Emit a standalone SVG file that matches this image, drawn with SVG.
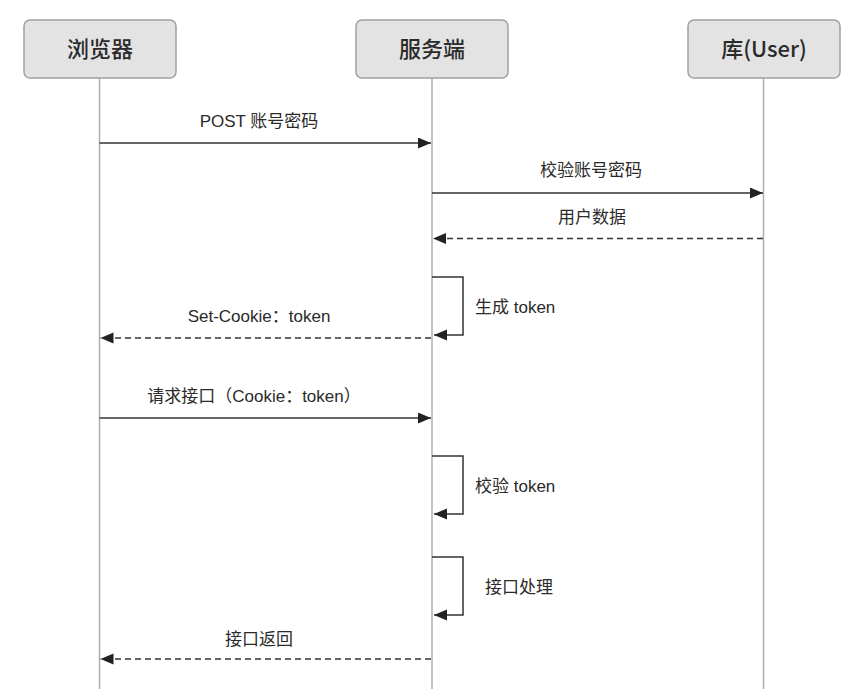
<svg xmlns="http://www.w3.org/2000/svg" width="865" height="689" viewBox="0 0 865 689">
<style>
.box{fill:#e3e3e3;stroke:#a0a0a0;stroke-width:1.5}
.life{stroke:#b0b0b0;stroke-width:1.5;fill:none}
.title{font-family:"Noto Sans CJK SC","Liberation Sans",sans-serif;font-size:22px;font-weight:500;fill:#2a2a2a;text-anchor:middle}
.lbl{font-family:"Liberation Sans","Noto Sans CJK SC",sans-serif;font-size:17px;fill:#2a2a2a}
.c{text-anchor:middle}
.msg{stroke:#333;stroke-width:1.5;fill:none}
.dash{stroke-dasharray:6 4}
</style>
<defs>
<marker id="ah" markerUnits="userSpaceOnUse" markerWidth="14" markerHeight="12" refX="13" refY="5.5" orient="auto">
<path d="M0,0 L13,5.5 L0,11 z" fill="#222"/>
</marker>
</defs>
<g id="lifelines">
<line class="life" x1="99.5" y1="78" x2="99.5" y2="689"/>
<line class="life" x1="432" y1="78" x2="432" y2="689"/>
<line class="life" x1="763.5" y1="78" x2="763.5" y2="689"/>
</g>
<g id="browser">
<rect class="box" x="24" y="20" width="152" height="58" rx="6"/>
<text class="title" x="100" y="57">浏览器</text>
</g>
<g id="server">
<rect class="box" x="356" y="20" width="152" height="58" rx="6"/>
<text class="title" x="432" y="57">服务端</text>
</g>
<g id="db">
<rect class="box" x="688" y="20" width="152" height="58" rx="6"/>
<text class="title" x="764" y="57">库(User)</text>
</g>
<g id="connectors">
<path class="msg" d="M99.5,143 H431" marker-end="url(#ah)"/>
<path class="msg" d="M432,193 H763" marker-end="url(#ah)"/>
<path class="msg dash" d="M763,238.5 H433" marker-end="url(#ah)"/>
<path class="msg" d="M432,277 H463 V335 H434" marker-end="url(#ah)"/>
<path class="msg dash" d="M431,338 H100.5" marker-end="url(#ah)"/>
<path class="msg" d="M99.5,418 H431" marker-end="url(#ah)"/>
<path class="msg" d="M432,456 H463 V514 H434" marker-end="url(#ah)"/>
<path class="msg" d="M432,557 H463 V615 H434" marker-end="url(#ah)"/>
<path class="msg dash" d="M431,659 H100.5" marker-end="url(#ah)"/>
</g>
<g id="labels">
<text class="lbl c" x="259" y="127">POST 账号密码</text>
<text class="lbl c" x="591" y="176">校验账号密码</text>
<text class="lbl c" x="592" y="223">用户数据</text>
<text class="lbl" x="475" y="313">生成 token</text>
<text class="lbl c" x="259" y="322">Set-Cookie：token</text>
<text class="lbl c" x="254" y="402">请求接口（Cookie：token）</text>
<text class="lbl" x="475" y="492">校验 token</text>
<text class="lbl" x="485" y="593">接口处理</text>
<text class="lbl c" x="259" y="645">接口返回</text>
</g>
</svg>
